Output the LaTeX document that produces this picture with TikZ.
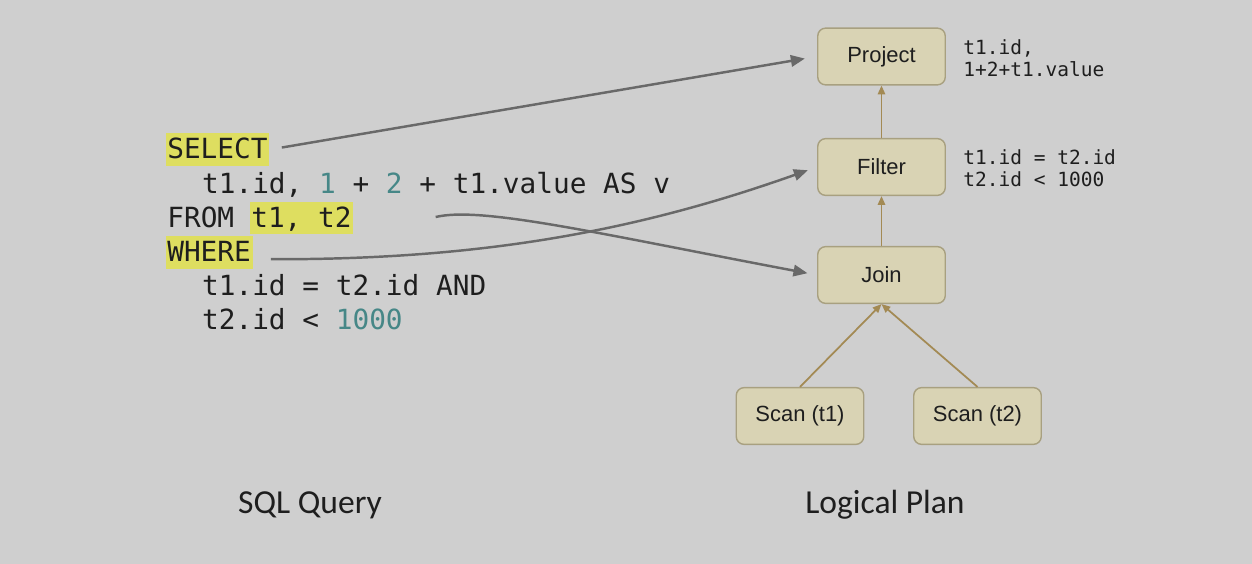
\documentclass[tikz,border=0pt]{standalone}
\usepackage{fontspec}
\setmainfont{Liberation Sans}
\newfontfamily\codefont{DejaVu Sans Mono}
\newfontfamily\capfont{Carlito}
\usetikzlibrary{arrows.meta}
\definecolor{bg}{RGB}{207,207,207}
\definecolor{hlyellow}{RGB}{222,222,96}
\definecolor{num}{RGB}{70,135,135}
\definecolor{ink}{RGB}{30,30,30}
\definecolor{opfill}{RGB}{217,211,180}
\definecolor{opdraw}{RGB}{168,160,128}
\definecolor{flow}{RGB}{163,138,84}
\definecolor{link}{RGB}{105,105,105}
\tikzset{
  code/.style={font=\codefont\fontsize{15.8}{19}\selectfont, text=ink, inner sep=0pt, anchor=base west},
  hilite/.style={code, fill=hlyellow, inner xsep=1pt, text height=14.7pt, text depth=4pt},
  op/.style={draw=opdraw, fill=opfill, rounded corners=4.5pt, line width=0.8pt, minimum width=72.6pt, minimum height=32.3pt, font=\fontsize{12.5}{15}\selectfont, text=ink},
  note/.style={font=\codefont\fontsize{11.1}{12.5}\selectfont, text=ink, align=left, anchor=west, inner sep=0pt},
  captiontext/.style={font=\capfont\fontsize{19.1}{23}\selectfont, text=ink, anchor=base},
  flowarrow/.style={draw=flow, line width=1pt, -{Triangle[length=5pt,width=4.2pt]}},
  linkarrow/.style={draw=link, line width=1.4pt, -{Triangle[length=8pt,width=6.5pt]}}
}
\begin{document}
\begin{tikzpicture}[x=0.02cm, y=-0.02cm]

    \fill[bg] (0,0) rectangle (1252,564);

    % SQL query
    \node[hilite] (sel) at (165.2,159) {SELECT};
    \node[code] (cols) at (201.8,193.2) {t1.id, \textcolor{num}{1} + \textcolor{num}{2} + t1.value AS v};
    \node[code] (from) at (167,227.4) {FROM};
    \node[hilite] (tabs) at (249.2,227.4) {t1, t2};
    \node[hilite] (where) at (165.2,261.6) {WHERE};
    \node[code] (condA) at (201.8,295.8) {t1.id = t2.id AND};
    \node[code] (condB) at (201.8,330) {t2.id < \textcolor{num}{1000}};

    % logical plan
    \node[op] (project) at (881.5,56.5) {Project};
    \node[op] (filter) at (881.5,167) {Filter};
    \node[op] (join) at (881.5,275) {Join};
    \node[op] (scanA) at (800,416) {Scan (t1)};
    \node[op] (scanB) at (977.5,416) {Scan (t2)};

    \node[note] (projnote) at (963,58) {t1.id,\\1+2+t1.value};
    \node[note] (filtnote) at (963,168) {t1.id = t2.id\\t2.id < 1000};

    \draw[flowarrow] (filter) -- (project);
    \draw[flowarrow] (join) -- (filter);
    \draw[flowarrow] (scanA.north) -- (join.south);
    \draw[flowarrow] (scanB.north) -- (join.south);

    % query to plan
    \draw[linkarrow, shorten <=7pt, shorten >=7pt] (sel.east) -- (project.west);
    \draw[linkarrow, shorten >=5.5pt] ([shift={(82,-1)}]tabs.east) .. controls (482,206) and (600,234) .. (join.west);
    \draw[linkarrow, shorten >=5.5pt] ([shift={(18,7)}]where.east) .. controls (490,260) and (645,228) .. (filter.west);

    \node[captiontext] (sqlcap) at (310,513) {SQL Query};
    \node[captiontext] (plancap) at (885,513) {Logical Plan};

\end{tikzpicture}
\end{document}
